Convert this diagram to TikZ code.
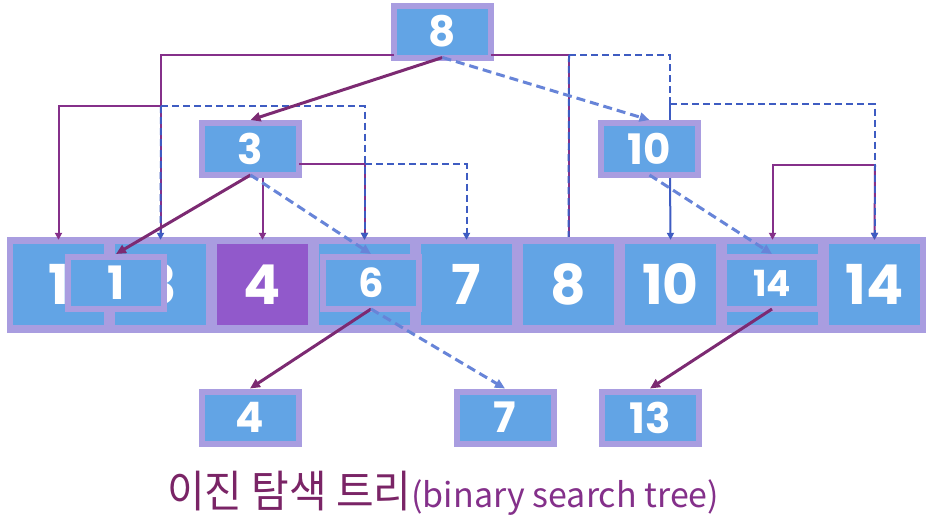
\documentclass[tikz,border=0pt]{standalone}
\usepackage{fontspec}
\setmainfont{Poppins}
\newfontfamily\krfont{Noto Sans CJK KR}
\usetikzlibrary{arrows.meta,calc}
\definecolor{cellblue}{HTML}{62A4E5}
\definecolor{lav}{HTML}{A99DE0}
\definecolor{cellpurple}{HTML}{9159CB}
\definecolor{edgepurple}{HTML}{7C2A72}
\definecolor{thinpurple}{HTML}{85308A}
\definecolor{edgeblue}{HTML}{6784D8}
\definecolor{thinblue}{HTML}{3E5CC2}
\definecolor{titlekr}{HTML}{7A2466}
\definecolor{titleen}{HTML}{84308A}
\tikzset{
  cellbox/.style={fill=cellblue, minimum width=91pt, minimum height=81pt, inner sep=0pt, text=white, font=\bfseries\fontsize{55}{55}\selectfont},
  treebox/.style={fill=cellblue, draw=lav, line width=6pt, minimum width=97pt, minimum height=52pt, inner sep=0pt, text=white, font=\bfseries\fontsize{42}{42}\selectfont},
  overbox/.style={fill=cellblue, draw=lav, line width=6pt, minimum width=96pt, minimum height=52pt, inner sep=0pt, text=white, font=\bfseries\fontsize{40}{40}\selectfont},
  leftedge/.style={draw=edgepurple, line width=3pt, -{Triangle[length=10pt,width=9pt]}},
  rightedge/.style={draw=edgeblue, line width=3pt, dash pattern=on 9pt off 5pt, -{Triangle[length=10pt,width=9pt]}},
  plink/.style={draw=thinpurple, line width=2pt},
  blink/.style={draw=thinblue, line width=2pt, dash pattern=on 7pt off 4pt},
  bsolid/.style={draw=thinblue, line width=2pt},
  tip/.style={-{Triangle[length=7pt,width=7pt]}, shorten >=-3pt}
}
\begin{document}
\begin{tikzpicture}[x=1pt,y=-1pt]
\useasboundingbox (0,0) rectangle (941,520);
% array
\node[fill=lav, minimum width=919pt, minimum height=96pt, inner sep=0pt] (arr) at (466.5,285) {};
\node[cellbox] (c1) at (58.5,284.5) {1};
\node[cellbox] (c2) at (160.5,284.5) {3};
\node[cellbox, fill=cellpurple] (c3) at (262.5,284.5) {4};
\node[cellbox] (c4) at (364.5,284.5) {};
\node[cellbox] (c5) at (466.5,284.5) {7};
\node[cellbox] (c6) at (568.5,284.5) {8};
\node[cellbox] (c7) at (670.5,284.5) {10};
\node[cellbox] (c8) at (772.5,284.5) {};
\node[cellbox] (c9) at (874.5,284.5) {14};
% overlays
\node[overbox, font=\bfseries\fontsize{46}{46}\selectfont] (o1) at (116,283) {1};
\node[overbox] (o6) at (371,283) {6};
\node[overbox, font=\bfseries\fontsize{36}{36}\selectfont] (o14) at (772,283) {14};
% tree nodes
\node[treebox] (n8) at (442.5,31.5) {8};
\node[treebox] (n3) at (250.5,149) {3};
\node[treebox] (n10) at (649.5,149) {10};
\node[treebox] (b4) at (250,417.5) {4};
\node[treebox] (b7) at (505,417.5) {7};
\node[treebox] (b13) at (650,417.5) {13};
% array top points
\coordinate (t1) at (c1.north |- arr.north);
\coordinate (t2) at (c2.north |- arr.north);
\coordinate (t3) at (c3.north |- arr.north);
\coordinate (t4) at (c4.north |- arr.north);
\coordinate (t5) at (c5.north |- arr.north);
\coordinate (t6) at (c6.north |- arr.north);
\coordinate (t7) at (c7.north |- arr.north);
\coordinate (t8) at (c8.north |- arr.north);
\coordinate (t9) at (c9.north |- arr.north);
% corners
\coordinate (s8L) at (394,55);
\coordinate (s8R) at (491,55);
\coordinate (kL) at (161,106);
\coordinate (s3R) at (299,164);
\coordinate (k3) at (365,164);
\coordinate (k8) at (569,55);
\coordinate (k10) at (670,104);
\coordinate (k14) at (875,165);
\coordinate (n10top) at (670,120);
\coordinate (n10bot) at (670,178);
% thin purple links
\draw[plink] (s8L) -| (t2);
\draw[plink, tip] (kL) -| (t1);
\draw[plink, tip] (s3R) -| (t4);
\draw[plink, tip] (c3.north |- n3.south) -- (t3);
\draw[plink] (s8R) -| (t6);
\draw[plink, tip] (k14) -| (t8);
\draw[plink, tip] (k14) -- (t9);
% thin blue links
\draw[blink, tip] (kL) -- (t2);
\draw[blink, tip] (kL) -| (t4);
\draw[blink, tip] (k3) -| (t5);
\draw[blink] (k8) -- (t6);
\draw[blink] (k8) -| (k10);
\draw[bsolid] (k10) -- (n10top);
\draw[bsolid, tip] (n10bot) -- (t7);
\draw[blink, tip] (k10) -| (t9);
% tree edges
\draw[leftedge] ([yshift=3pt]n8.south) -- (n3.north);
\draw[rightedge] ([yshift=3pt]n8.south) -- (n10.north);
\draw[leftedge] ([yshift=3pt]n3.south) -- (o1.north);
\draw[rightedge] ([yshift=3pt]n3.south) -- (o6.north);
\draw[leftedge] ([yshift=3pt]o6.south) -- (b4.north);
\draw[rightedge] ([yshift=3pt]o6.south) -- (b7.north);
\draw[rightedge] ([yshift=3pt]n10.south) -- (o14.north);
\draw[leftedge] ([yshift=3pt]o14.south) -- (b13.north);
% title
\node[anchor=base west, inner sep=0pt] (title) at (167,507) {{\krfont\fontsize{44}{44}\selectfont\color{titlekr}\scalebox{0.93}[1]{이진 탐색 트리}}{\krfont\fontsize{34}{34}\selectfont\color{titleen}(binary search tree)}};
\end{tikzpicture}
\end{document}
